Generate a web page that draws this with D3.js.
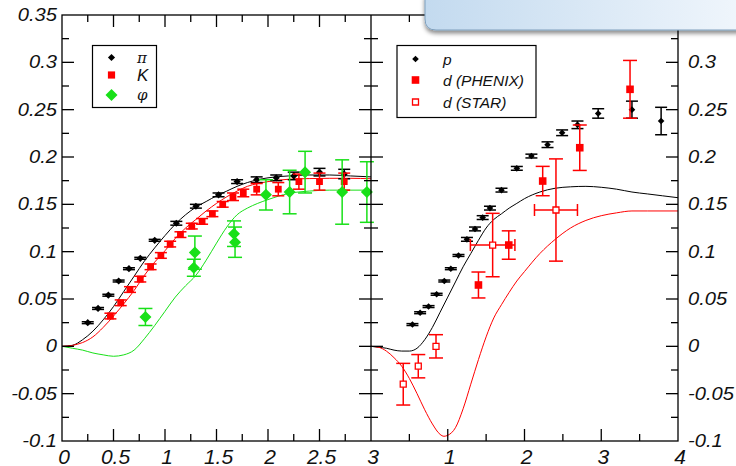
<!DOCTYPE html>
<html><head><meta charset="utf-8">
<script src="https://cdn.jsdelivr.net/npm/d3@7"></script>
<style>body{margin:0;background:#fff}svg{display:block}</style>
</head><body>
<svg id="c" width="736" height="466"></svg>
<script>
// ---------- data ----------
const piX = [0.25,0.35,0.45,0.55,0.65,0.76,0.90,1.11,1.30,1.52,1.70,1.89,2.08,2.25,2.50,2.74];
const piY = [0.025,0.040,0.054,0.069,0.082,0.093,0.112,0.130,0.148,0.160,0.174,0.176,0.178,0.180,0.184,0.182];
const piE = [0.001,0.001,0.001,0.001,0.001,0.001,0.001,0.002,0.002,0.002,0.002,0.003,0.003,0.004,0.004,0.005];

const kX = [0.47,0.57,0.66,0.76,0.86,0.96,1.05,1.15,1.26,1.36,1.46,1.56,1.66,1.76,1.89,2.10,2.30,2.50,2.74];
const kY = [0.032,0.046,0.060,0.071,0.084,0.096,0.108,0.118,0.127,0.132,0.140,0.150,0.158,0.162,0.166,0.166,0.174,0.174,0.174];
const kE = [0.003,0.003,0.003,0.003,0.003,0.003,0.003,0.003,0.003,0.003,0.003,0.003,0.004,0.004,0.006,0.007,0.008,0.009,0.009];

const phiX = [0.81,1.29,1.28,1.67,1.68,1.98,2.21,2.36,2.72,2.96];
const phiY = [0.031,0.099,0.083,0.119,0.110,0.160,0.163,0.184,0.163,0.163];
const phiE = [0.009,0.0175,0.009,0.0135,0.016,0.016,0.023,0.022,0.034,0.032];

const piCurveX = [0,0.1,0.2,0.3,0.4,0.5,0.6,0.7,0.8,0.9,1.0,1.1,1.2,1.3,1.4,1.5,1.6,1.7,1.8,1.9,2.0,2.2,2.4,2.6,2.8,3.0];
const piCurveY = [0,0.001,0.007,0.016,0.028,0.042,0.058,0.074,0.090,0.104,0.117,0.129,0.139,0.147,0.153,0.159,0.164,0.169,0.173,0.176,0.178,0.180,0.181,0.181,0.180,0.179];
const kCurveX = [0,0.1,0.2,0.3,0.4,0.5,0.6,0.7,0.8,0.9,1.0,1.1,1.2,1.3,1.4,1.5,1.6,1.7,1.8,1.9,2.0,2.2,2.4,2.6,2.8,3.0];
const kCurveY = [0,0.001,0.004,0.010,0.020,0.032,0.045,0.059,0.075,0.089,0.101,0.114,0.125,0.134,0.143,0.151,0.158,0.164,0.169,0.172,0.174,0.1765,0.1772,0.1775,0.1775,0.177];
const phiCurveX = [0,0.1,0.2,0.3,0.4,0.5,0.6,0.7,0.8,0.9,1.0,1.1,1.2,1.3,1.4,1.5,1.6,1.7,1.8,1.9,2.0,2.2,2.4,2.6,2.8,3.0];
const phiCurveY = [0,-0.002,-0.004,-0.007,-0.009,-0.0105,-0.009,-0.004,0.008,0.022,0.037,0.052,0.064,0.075,0.091,0.109,0.126,0.139,0.146,0.151,0.155,0.1615,0.164,0.165,0.165,0.165];

const pX = [0.54,0.64,0.75,0.855,0.955,1.04,1.14,1.25,1.355,1.455,1.55,1.70,1.90,2.09,2.30,2.49,2.69,2.96,3.40,3.78];
const pY = [0.023,0.0355,0.042,0.055,0.069,0.082,0.096,0.113,0.124,0.136,0.146,0.165,0.188,0.201,0.213,0.2256,0.234,0.246,0.250,0.238];
const pE = [0.001,0.001,0.001,0.001,0.001,0.001,0.001,0.002,0.002,0.002,0.002,0.002,0.002,0.002,0.003,0.003,0.004,0.005,0.009,0.0145];

const dPhX = [1.40,1.795,2.237,2.72,3.375];
const dPhY = [0.0648,0.107,0.1746,0.2098,0.2715];
const dPhE = [0.0137,0.015,0.0155,0.024,0.0305];

const dStX = [0.42,0.616,0.847,1.585,2.41];
const dStY = [-0.040,-0.021,0.000,0.107,0.144];
const dStE = [0.022,0.0123,0.0123,0.0335,0.054];
const dStXE = [0,0,0,0.29,0.28];

const pCurveX = [0,0.1,0.2,0.3,0.4,0.5,0.6,0.7,0.8,0.9,1.0,1.1,1.2,1.3,1.4,1.5,1.6,1.7,1.8,1.9,2.0,2.2,2.4,2.6,2.8,3.0,3.2,3.4,3.6,3.8,4.0];
const pCurveY = [0,-0.001,-0.002,-0.004,-0.005,-0.005,-0.002,0.007,0.020,0.036,0.052,0.068,0.084,0.098,0.112,0.125,0.134,0.140,0.146,0.151,0.156,0.163,0.167,0.1685,0.169,0.168,0.166,0.163,0.161,0.159,0.157];
const dCurveX = [0,0.1,0.2,0.3,0.4,0.5,0.6,0.7,0.8,0.9,0.95,1.0,1.1,1.2,1.3,1.4,1.5,1.6,1.7,1.8,1.9,2.0,2.2,2.4,2.6,2.8,3.0,3.2,3.4,3.6,4.0];
const dCurveY = [0,-0.001,-0.005,-0.012,-0.021,-0.034,-0.050,-0.067,-0.082,-0.093,-0.095,-0.094,-0.086,-0.066,-0.040,-0.014,0.010,0.030,0.044,0.057,0.069,0.079,0.098,0.113,0.125,0.133,0.138,0.141,0.143,0.143,0.143];

const yTicks = [-0.1,-0.05,0,0.05,0.1,0.15,0.2,0.25,0.3,0.35];
const yTickLabels = ["-0.1","-0.05","0","0.05","0.1","0.15","0.2","0.25","0.3","0.35"];
const xLeftTicks = [0,0.5,1,1.5,2,2.5,3];
const xLeftLabels = ["0","0.5","1","1.5","2","2.5","3"];
const xRightTicks = [1,2,3,4];
const xRightLabels = ["1","2","3","4"];

const leftLegend = ["π","K","φ"];
const rightLegend = ["p","d (PHENIX)","d (STAR)"];

// ---------- drawing ----------
const RED = "#ff0000", GREEN = "#18e018", BLACK = "#000";
const svg = d3.select("#c");
const y = d3.scaleLinear().domain([-0.1,0.35]).range([441,15]);
const xL = d3.scaleLinear().domain([0,3]).range([62,371]);
const xR = d3.scaleLinear().domain([0,4]).range([371,678]);

const defs = svg.append("defs");
const grad = defs.append("linearGradient").attr("id","bg").attr("x1","0").attr("x2","1").attr("y1","0").attr("y2","0");
grad.append("stop").attr("offset","0").attr("stop-color","#c3daef");
grad.append("stop").attr("offset","1").attr("stop-color","#f0f6fc");
const filt = defs.append("filter").attr("id","sh").attr("x","-10%").attr("y","-50%").attr("width","130%").attr("height","250%");
filt.append("feDropShadow").attr("dx",0).attr("dy",3).attr("stdDeviation",2).attr("flood-color","#000").attr("flood-opacity",0.45);

const zip = (a,b) => a.map((v,i)=>[v,b[i]]);
const line = (sx) => d3.line().x(d=>sx(d[0])).y(d=>y(d[1])).curve(d3.curveMonotoneX);

function symPath(kind, h){
  return kind==="dia" ? `M0,${-h}L${h},0L0,${h}L${-h},0Z` : `M${-h},${-h}H${h}V${h}H${-h}Z`;
}

function curve(sx, xs, ys, col){
  svg.append("path").attr("d", line(sx)(zip(xs,ys))).attr("fill","none").attr("stroke",col).attr("stroke-width",1);
}
function errs(sx, xs, ys, es, col, cap, xes){
  const g = svg.append("g").attr("stroke",col).attr("stroke-width",1.5).attr("fill","none");
  xs.forEach((xv,i)=>{
    const cx = sx(xv), y1 = y(ys[i]-es[i]), y2 = y(ys[i]+es[i]);
    g.append("line").attr("x1",cx).attr("x2",cx).attr("y1",y1).attr("y2",y2);
    g.append("line").attr("x1",cx-cap).attr("x2",cx+cap).attr("y1",y1).attr("y2",y1);
    g.append("line").attr("x1",cx-cap).attr("x2",cx+cap).attr("y1",y2).attr("y2",y2);
    if (xes && xes[i]>0){
      const xa = sx(xv-xes[i]), xb = sx(xv+xes[i]), cy = y(ys[i]);
      g.append("line").attr("x1",xa).attr("x2",xb).attr("y1",cy).attr("y2",cy);
      g.append("line").attr("x1",xa).attr("x2",xa).attr("y1",cy-6).attr("y2",cy+6);
      g.append("line").attr("x1",xb).attr("x2",xb).attr("y1",cy-6).attr("y2",cy+6);
    }
  });
}
function marks(sx, xs, ys, kind, col, h, open){
  svg.append("g").selectAll("path").data(zip(xs,ys)).join("path")
    .attr("transform",d=>`translate(${sx(d[0])},${y(d[1])})`)
    .attr("d",symPath(kind,h)).attr("fill",open?"#fff":col).attr("stroke",col).attr("stroke-width",open?1.3:0);
}

curve(xL, piCurveX, piCurveY, BLACK);
curve(xL, kCurveX, kCurveY, RED);
curve(xL, phiCurveX, phiCurveY, GREEN);
curve(xR, pCurveX, pCurveY, BLACK);
curve(xR, dCurveX, dCurveY, RED);

errs(xL, piX, piY, piE, BLACK, 6);
marks(xL, piX, piY, "dia", BLACK, 3.6);
errs(xL, kX, kY, kE, RED, 6);
marks(xL, kX, kY, "sq", RED, 3.4);
errs(xL, phiX, phiY, phiE, GREEN, 7);
marks(xL, phiX, phiY, "dia", GREEN, 6);

errs(xR, pX, pY, pE, BLACK, 6);
marks(xR, pX, pY, "dia", BLACK, 3.3);
errs(xR, dPhX, dPhY, dPhE, RED, 7);
marks(xR, dPhX, dPhY, "sq", RED, 3.8);
errs(xR, dStX, dStY, dStE, RED, 7, dStXE);
marks(xR, dStX, dStY, "sq", RED, 3, true);

const ax = svg.append("g").attr("stroke","#000").attr("stroke-width",1.3).attr("fill","none");
ax.append("rect").attr("x",62).attr("y",15).attr("width",678-62).attr("height",441-15);
ax.append("line").attr("x1",371).attr("x2",371).attr("y1",15).attr("y2",441);
const yMinor = d3.range(-0.1,0.3501,0.025).map(v=>+v.toFixed(3));
yMinor.forEach(v=>{
  const major = Math.abs(Math.round(v*20)-v*20)<1e-6;
  const L = major?12:7, yy=y(v);
  if (v>-0.1 && v<0.35){
    ax.append("line").attr("x1",62).attr("x2",62+L).attr("y1",yy).attr("y2",yy);
    ax.append("line").attr("x1",371-L).attr("x2",371).attr("y1",yy).attr("y2",yy);
    ax.append("line").attr("x1",371).attr("x2",371+L).attr("y1",yy).attr("y2",yy);
    ax.append("line").attr("x1",678-L).attr("x2",678).attr("y1",yy).attr("y2",yy);
  }
});
d3.range(0.25,3,0.25).forEach(v=>{
  const major = Math.abs(v*2-Math.round(v*2))<1e-6;
  const L = major?12:7, xx=xL(v);
  ax.append("line").attr("x1",xx).attr("x2",xx).attr("y1",441).attr("y2",441-L);
  ax.append("line").attr("x1",xx).attr("x2",xx).attr("y1",15).attr("y2",15+L);
});
d3.range(0.5,4,0.5).forEach(v=>{
  const major = Math.abs(v-Math.round(v))<1e-6;
  const L = major?12:7, xx=xR(v);
  ax.append("line").attr("x1",xx).attr("x2",xx).attr("y1",441).attr("y2",441-L);
  ax.append("line").attr("x1",xx).attr("x2",xx).attr("y1",15).attr("y2",15+L);
});

const lab = svg.append("g").attr("font-family","'Liberation Sans', Arial, sans-serif")
  .attr("font-style","italic").attr("fill","#111");
function txt(x0,y0,s,anchor,fs,sx){
  lab.append("text").attr("transform",`translate(${x0},${y0}) scale(${sx},1)`).attr("font-size",fs)
    .attr("text-anchor",anchor).attr("dominant-baseline","central").text(s);
}
yTicks.forEach((v,i)=>{ txt(57, y(v), yTickLabels[i], "end", 17.5, 1.15); txt(688, y(v), yTickLabels[i], "start", 17.5, 1.15); });
xLeftTicks.forEach((v,i)=>{ txt(xL(v)+2, 456, xLeftLabels[i], "middle", 21, 1); });
xRightTicks.forEach((v,i)=>{ txt(xR(v)+2, 456, xRightLabels[i], "middle", 21, 1); });

const lg = svg.append("g");
lg.append("rect").attr("x",92.5).attr("y",45.5).attr("width",64).attr("height",62).attr("fill","#fff").attr("stroke","#000").attr("stroke-width",1.2);
const llY = [57.5,75,95];
const llSym = [["dia",BLACK,3.6],["sq",RED,3.6],["dia",GREEN,6]];
const llFont = [["'DejaVu Serif', serif",15],["'Liberation Sans', sans-serif",17],["'DejaVu Serif', serif",15]];
leftLegend.forEach((s,i)=>{
  lg.append("path").attr("transform",`translate(111.5,${llY[i]})`).attr("d",symPath(llSym[i][0],llSym[i][2])).attr("fill",llSym[i][1]);
  lg.append("text").attr("x",137).attr("y",llY[i]).attr("dominant-baseline","central")
    .attr("font-family", llFont[i][0]).attr("font-style","italic").attr("font-size",llFont[i][1]).attr("fill","#111").text(s);
});
lg.append("rect").attr("x",397).attr("y",45.5).attr("width",139).attr("height",72).attr("fill","#fff").attr("stroke","#000").attr("stroke-width",1.2);
const rlY = [59,80,102];
rightLegend.forEach((s,i)=>{
  const open = i===2;
  lg.append("path").attr("transform",`translate(415.5,${rlY[i]})`)
    .attr("d",symPath(i===0?"dia":"sq", i===0?3.3:(open?3:3.8)))
    .attr("fill",open?"#fff":(i===0?BLACK:RED)).attr("stroke",i===0?BLACK:RED).attr("stroke-width",open?1.3:0);
  lg.append("text").attr("x",443).attr("y",rlY[i]).attr("dominant-baseline","central")
    .attr("font-family","'Liberation Sans', Arial, sans-serif").attr("font-style","italic")
    .attr("font-size",15.5).attr("fill","#111").text(s);
});

svg.append("path").attr("d","M425,-5 L745,-5 L745,30 L436,30 Q425,30 425,19 Z")
  .attr("fill","url(#bg)").attr("stroke","#7f9fbd").attr("stroke-width",1).attr("filter","url(#sh)");
</script>
</body></html>
